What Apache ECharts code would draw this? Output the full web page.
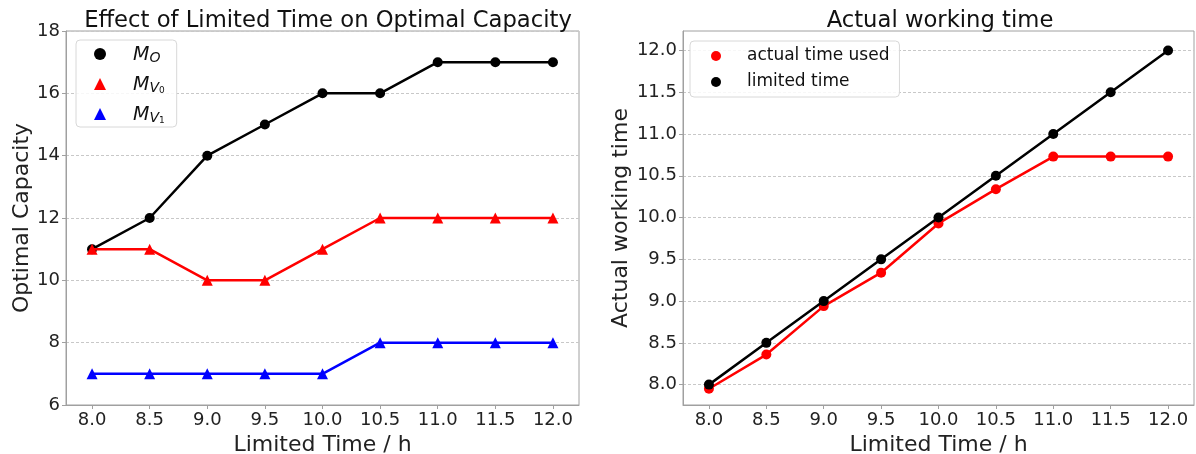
<!DOCTYPE html>
<html><head><meta charset="utf-8">
<script src="https://cdn.jsdelivr.net/npm/echarts@6/dist/echarts.min.js"></script>
<style>html,body{margin:0;padding:0;background:#fff}#c{width:1196px;height:454px}</style>
</head><body><div id="c"></div>
<script>
const limitedTime = [8.0, 8.5, 9.0, 9.5, 10.0, 10.5, 11.0, 11.5, 12.0];
const capacityMO = [11, 12, 14, 15, 16, 16, 17, 17, 17];
const capacityMV0 = [11, 11, 10, 10, 11, 12, 12, 12, 12];
const capacityMV1 = [7, 7, 7, 7, 7, 8, 8, 8, 8];
const actualTimeUsed = [7.95, 8.36, 8.94, 9.34, 9.93, 10.34, 10.73, 10.73, 10.73];
const limitedTimeLine = [8.0, 8.5, 9.0, 9.5, 10.0, 10.5, 11.0, 11.5, 12.0];
const xTicks = [8.0, 8.5, 9.0, 9.5, 10.0, 10.5, 11.0, 11.5, 12.0];
const leftYTicks = [6, 8, 10, 12, 14, 16, 18];
const rightYTicks = [8.0, 8.5, 9.0, 9.5, 10.0, 10.5, 11.0, 11.5, 12.0];

const FONT = 'DejaVu Sans';
const pairs = (xs, ys) => xs.map((x, i) => [x, ys[i]]);
const axisCommon = {
  axisLine: {show: true, lineStyle: {color: '#a0a0a0', width: 1}},
  axisTick: {show: true, length: 4, inside: false, lineStyle: {color: '#a0a0a0'}},
  axisLabel: {color: '#222', fontSize: 18, fontFamily: FONT, margin: 6},
  nameTextStyle: {color: '#222', fontSize: 22, fontFamily: FONT}
};
function xAxis(gi) {
  return Object.assign({}, axisCommon, {
    type: 'value', gridIndex: gi, min: 7.774, max: 12.226,
    name: 'Limited Time / h', nameLocation: 'middle', nameGap: 24,
    splitLine: {show: false},
    axisTick: Object.assign({}, axisCommon.axisTick, {customValues: xTicks}),
    axisLabel: Object.assign({}, axisCommon.axisLabel, {customValues: xTicks, formatter: v => v.toFixed(1)})
  });
}
const option = {
  backgroundColor: '#fff',
  animation: false,
  title: [
    {text: 'Effect of Limited Time on Optimal Capacity', left: 323, top: 5, textAlign: 'center',
     textStyle: {fontFamily: FONT, fontSize: 22.7, fontWeight: 'normal', color: '#111'}},
    {text: 'Actual working time', left: 935, top: 5, textAlign: 'center',
     textStyle: {fontFamily: FONT, fontSize: 22.7, fontWeight: 'normal', color: '#111'}}
  ],
  grid: [
    {left: 66, right: 617, top: 31, bottom: 49, show: true, borderColor: '#a0a0a0', borderWidth: 1, backgroundColor: 'transparent', containLabel: false, outerBoundsMode: 'none'},
    {left: 683, right: 2, top: 31, bottom: 49, show: true, borderColor: '#a0a0a0', borderWidth: 1, backgroundColor: 'transparent', containLabel: false, outerBoundsMode: 'none'}
  ],
  xAxis: [xAxis(0), xAxis(1)],
  yAxis: [
    Object.assign({}, axisCommon, {
      type: 'value', gridIndex: 0, min: 6, max: 18,
      name: 'Optimal Capacity', nameLocation: 'middle', nameGap: 33,
      axisTick: Object.assign({}, axisCommon.axisTick, {customValues: leftYTicks}),
      axisLabel: Object.assign({}, axisCommon.axisLabel, {customValues: leftYTicks}),
      splitLine: {show: true, lineStyle: {color: '#c8c8c8', type: [3, 2], width: 1}}
    }),
    Object.assign({}, axisCommon, {
      type: 'value', gridIndex: 1, min: 7.756, max: 12.234,
      name: 'Actual working time', nameLocation: 'middle', nameGap: 51,
      axisTick: Object.assign({}, axisCommon.axisTick, {customValues: rightYTicks}),
      axisLabel: Object.assign({}, axisCommon.axisLabel, {customValues: rightYTicks, formatter: v => v.toFixed(1)}),
      splitLine: {show: true, lineStyle: {color: '#c8c8c8', type: [3, 2], width: 1}}
    })
  ],
  legend: [
    {
      left: 76, top: 40, orient: 'vertical', itemGap: 10, itemWidth: 12, itemHeight: 12,
      padding: [5, 12, 2, 18],
      borderColor: '#d8d8d8', borderWidth: 1, borderRadius: 4, backgroundColor: 'rgba(255,255,255,0.85)',
      data: [
        {name: 'MO', icon: 'circle'},
        {name: 'MV0', icon: 'triangle'},
        {name: 'MV1', icon: 'triangle'}
      ],
      formatter: n => n === 'MO' ? '{i|M}{s|O}' : (n === 'MV0' ? '{i|M}{s|V}{ss|0}' : '{i|M}{s|V}{ss|1}'),
      textStyle: {
        padding: [0, 0, 0, 22],
        rich: {
          i: {fontFamily: FONT, fontStyle: 'italic', fontSize: 19, color: '#111', verticalAlign: 'bottom', lineHeight: 22},
          s: {fontFamily: FONT, fontStyle: 'italic', fontSize: 14, color: '#111', verticalAlign: 'bottom', padding: [6, 0, 0, 0], lineHeight: 22},
          ss: {fontFamily: FONT, fontSize: 9, color: '#111', verticalAlign: 'bottom', padding: [10, 0, 0, 0], lineHeight: 22}
        }
      }
    },
    {
      left: 690, top: 41, orient: 'vertical', itemGap: 6, itemWidth: 10, itemHeight: 10,
      padding: [5, 10, 5, 21],
      borderColor: '#d8d8d8', borderWidth: 1, borderRadius: 4, backgroundColor: 'rgba(255,255,255,0.85)',
      data: [
        {name: 'actual time used', icon: 'circle'},
        {name: 'limited time', icon: 'circle'}
      ],
      textStyle: {fontFamily: FONT, fontSize: 17, color: '#111', padding: [0, 0, 0, 21], lineHeight: 20}
    }
  ],
  series: [
    {name: 'MO', type: 'line', xAxisIndex: 0, yAxisIndex: 0, data: pairs(limitedTime, capacityMO),
     color: '#000', lineStyle: {width: 2.5, color: '#000'}, symbol: 'circle', symbolSize: 10, itemStyle: {color: '#000'}, z: 3},
    {name: 'MV0', type: 'line', xAxisIndex: 0, yAxisIndex: 0, data: pairs(limitedTime, capacityMV0),
     color: '#ff0000', lineStyle: {width: 2.5, color: '#ff0000'}, symbol: 'triangle', symbolSize: 11, itemStyle: {color: '#ff0000'}, z: 4},
    {name: 'MV1', type: 'line', xAxisIndex: 0, yAxisIndex: 0, data: pairs(limitedTime, capacityMV1),
     color: '#0000ff', lineStyle: {width: 2.5, color: '#0000ff'}, symbol: 'triangle', symbolSize: 11, itemStyle: {color: '#0000ff'}, z: 4},
    {name: 'actual time used', type: 'line', xAxisIndex: 1, yAxisIndex: 1, data: pairs(limitedTime, actualTimeUsed),
     color: '#ff0000', lineStyle: {width: 2.5, color: '#ff0000'}, symbol: 'circle', symbolSize: 10, itemStyle: {color: '#ff0000'}, z: 3},
    {name: 'limited time', type: 'line', xAxisIndex: 1, yAxisIndex: 1, data: pairs(limitedTime, limitedTimeLine),
     color: '#000', lineStyle: {width: 2.5, color: '#000'}, symbol: 'circle', symbolSize: 10, itemStyle: {color: '#000'}, z: 4}
  ]
};
const chart = echarts.init(document.getElementById('c'), null, {renderer: 'canvas'});
chart.setOption(option);
</script>
</body></html>
